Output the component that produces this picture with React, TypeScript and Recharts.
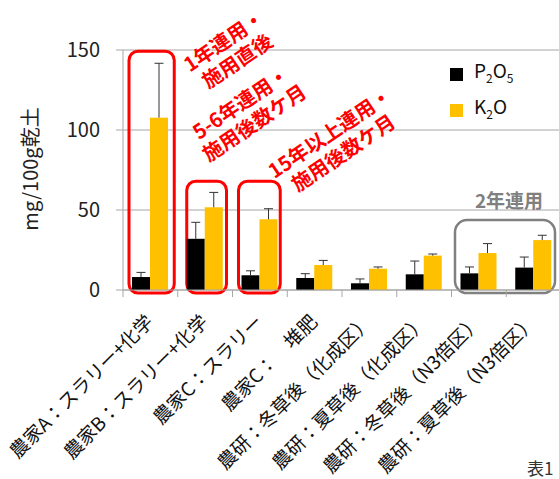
import React from 'react';
import { BarChart, Bar, XAxis, YAxis, CartesianGrid, ReferenceArea, Legend } from 'recharts';

// sampling sites
const categories = [
  '農家A：スラリー+化学',
  '農家B：スラリー+化学',
  '農家C：スラリー',
  '農家C：　堆肥',
  '農研：冬草後（化成区）',
  '農研：夏草後（化成区）',
  '農研：冬草後（N3倍区）',
  '農研：夏草後（N3倍区）',
];

// mg / 100g dry soil, mean and upper error
const p2o5 = [8.1, 32, 9.2, 7.5, 4.2, 9.8, 10.4, 14];
const p2o5Err = [2.9, 10.3, 2.8, 2.7, 2.7, 8.3, 4, 6.6];
const k2o = [107.7, 51.7, 44.2, 15.6, 13.3, 21.5, 23.1, 31.2];
const k2oErr = [34, 9.3, 6.6, 2.9, 1.1, 1.0, 5.9, 3.0];

const yTicks = [0, 50, 100, 150];

const data = categories.map((name, i) => ({
  name,
  p2o5: p2o5[i],
  p2o5Err: p2o5Err[i],
  k2o: k2o[i],
  k2oErr: k2oErr[i],
}));

const FONT = "'Noto Sans CJK JP', 'Noto Sans', sans-serif";
const RED = '#ff0000';
const GRAY = '#808080';

// bar with a one-sided (upper) error whisker
const barWithError = (errKey: string) => (props: any) => {
  const { x, y, width, height, fill, payload, value } = props;
  const v = Array.isArray(value) ? value[1] - value[0] : value;
  const unit = v ? height / v : 0;
  const top = y - payload[errKey] * unit;
  const cx = x + width / 2;
  return (
    <g>
      <rect x={x} y={y} width={width} height={height} fill={fill} />
      <line x1={cx} y1={y} x2={cx} y2={top} stroke="#333" strokeWidth={1} />
      <line x1={cx - 4.5} y1={top} x2={cx + 4.5} y2={top} stroke="#333" strokeWidth={1} />
    </g>
  );
};

// rounded frame inset from the band edges
const frame = (stroke: string, insetL: number, insetR: number, r: number, sw: number) => (props: any) => {
  const { x, y, width, height } = props;
  return (
    <rect
      x={x + insetL}
      y={y}
      width={width - insetL - insetR}
      height={height}
      rx={r}
      ry={r}
      fill="none"
      stroke={stroke}
      strokeWidth={sw}
    />
  );
};

const CategoryTick = (props: any) => {
  const { x, y, payload } = props;
  const left = x - (payload.offset || 0);
  return (
    <g>
      <line x1={left} y1={y} x2={left} y2={y + 7} stroke="#a6a6a6" />
      <text
        transform={`translate(${x + 4},${y + 33}) rotate(-45)`}
        textAnchor="end"
        fontSize={19}
        fontFamily={FONT}
        fill="#111"
      >
        {payload.value}
      </text>
    </g>
  );
};

const Note = ({ cx, cy, lines }: { cx: number; cy: number; lines: string[] }) => (
  <g transform={`translate(${cx},${cy}) rotate(-34)`}>
    {lines.map((t, i) => (
      <text
        key={t}
        x={0}
        y={(i - (lines.length - 1) / 2) * 24}
        textAnchor="middle"
        dominantBaseline="central"
        fontSize={20}
        fontWeight="bold"
        fontFamily={FONT}
        fill={RED}
      >
        {t}
      </text>
    ))}
  </g>
);

const legendItems = [
  { color: '#000000', label: <>P<sub style={{ fontSize: 12 }}>2</sub>O<sub style={{ fontSize: 12 }}>5</sub></> },
  { color: '#ffc000', label: <>K<sub style={{ fontSize: 12 }}>2</sub>O</> },
];

const renderLegend = () => (
  <div style={{ fontFamily: FONT, fontSize: 19, color: '#111' }}>
    {legendItems.map((it, i) => (
      <div key={i} style={{ display: 'flex', alignItems: 'center', height: 36 }}>
        <span style={{ display: 'inline-block', width: 13, height: 13, background: it.color, marginRight: 11 }} />
        <span style={{ lineHeight: '20px' }}>{it.label}</span>
      </div>
    ))}
  </div>
);

export default function App() {
  return (
    <div style={{ position: 'absolute', left: 0, top: 0, width: 559, height: 479, overflow: 'hidden', background: '#fff' }}>
      <BarChart
        width={561}
        height={479}
        data={data}
        margin={{ top: 50, right: 0, bottom: 0, left: 0 }}
        barSize={18}
        barGap={0}
      >
        <CartesianGrid vertical={false} stroke="#a6a6a6" />
        <XAxis
          dataKey="name"
          height={189}
          tickLine={false}
          tickSize={0}
          tickMargin={0}
          stroke="#a6a6a6"
          interval={0}
          tick={<CategoryTick />}
        />
        <YAxis
          width={123}
          domain={[0, 150]}
          ticks={yTicks}
          tickSize={7}
          tickMargin={16}
          stroke="#a6a6a6"
          tick={{ fill: '#222', fontSize: 20, fontFamily: FONT }}
        />
        <Bar dataKey="p2o5" name="P2O5" fill="#000000" isAnimationActive={false} shape={barWithError('p2o5Err')} />
        <Bar dataKey="k2o" name="K2O" fill="#ffc000" isAnimationActive={false} shape={barWithError('k2oErr')} />

        <ReferenceArea x1={categories[0]} x2={categories[0]} y1={-1.9} y2={149.2} ifOverflow="visible"
          shape={frame(RED, 6, 3.5, 9, 3)} />
        <ReferenceArea x1={categories[1]} x2={categories[1]} y1={-1.9} y2={68} ifOverflow="visible"
          shape={frame(RED, 9, 6, 9, 3)} />
        <ReferenceArea x1={categories[2]} x2={categories[2]} y1={-1.9} y2={68} ifOverflow="visible"
          shape={frame(RED, 6, 7, 9, 3)} />
        <ReferenceArea x1={categories[6]} x2={categories[7]} y1={-1.9} y2={43.7} ifOverflow="visible"
          shape={frame(GRAY, 3.5, 6, 12, 2.5)} />

        <Legend
          layout="vertical"
          align="center"
          verticalAlign="middle"
          wrapperStyle={{ left: 450, top: 56, width: 100 }}
          content={renderLegend}
        />

        <text transform="translate(29,169) rotate(-90)" textAnchor="middle" dominantBaseline="central"
          fontSize={20} fontFamily={FONT} fill="#222">mg/100g乾土</text>

        <Note cx={230} cy={50} lines={['1年連用・', '施用直後']} />
        <Note cx={247} cy={112} lines={['5-6年連用・', '施用後数ケ月']} />
        <Note cx={336} cy={142} lines={['15年以上連用・', '施用後数ケ月']} />

        <text x={509} y={208} textAnchor="middle" fontSize={19} fontWeight="bold" fontFamily={FONT} fill={GRAY}>2年連用</text>
        <text x={527} y={475} fontSize={17} fontFamily={FONT} fill="#333">表1</text>
      </BarChart>
    </div>
  );
}
